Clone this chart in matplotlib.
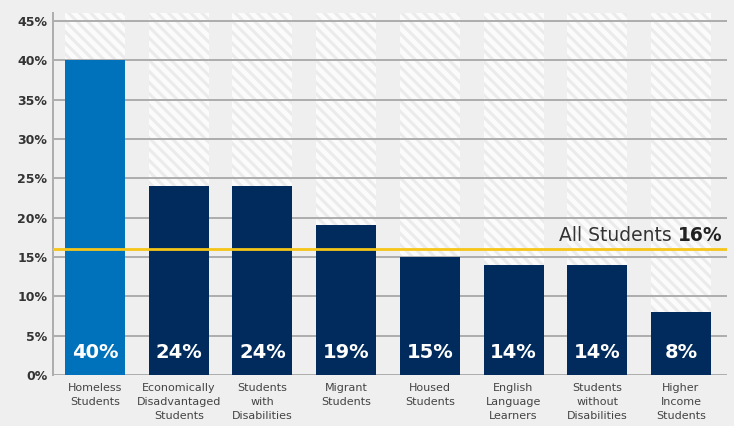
import matplotlib
matplotlib.use("Agg")
import matplotlib.pyplot as plt

categories = ["Homeless\nStudents", "Economically\nDisadvantaged\nStudents", "Students\nwith\nDisabilities",
              "Migrant\nStudents", "Housed\nStudents", "English\nLanguage\nLearners",
              "Students\nwithout\nDisabilities", "Higher\nIncome\nStudents"]
values = [40, 24, 24, 19, 15, 14, 14, 8]
all_students = 16
yticks = [0, 5, 10, 15, 20, 25, 30, 35, 40, 45]

bg = "#efefef"
plt.rcParams['font.family'] = ['DejaVu Sans']
plt.rcParams['hatch.linewidth'] = 2.2

fig = plt.figure(figsize=(7.34, 4.26), dpi=100, facecolor=bg)
ax = fig.add_axes([53/734, 1-375/426, (727-53)/734, (375-13)/426])
ax.set_facecolor(bg)

x = list(range(len(values)))
w = 0.717
ax.bar(x, [46]*len(x), width=w, color="#fbfbfb", hatch="\\\\\\", edgecolor="#ebebeb", linewidth=0, zorder=1)
colors = ["#0071bb"] + ["#002b5c"]*(len(values)-1)
ax.bar(x, values, width=w, color=colors, zorder=3)

for yy in yticks:
    ax.axhline(yy, color="#adadad", lw=1.4, zorder=2)

ax.set_ylim(0, 46)
ax.set_xlim(-0.502, 7.55)
for s in ["top", "right", "bottom"]:
    ax.spines[s].set_visible(False)
ax.spines["left"].set_color("#adadad")
ax.spines["left"].set_linewidth(1.4)

ax.set_yticks(yticks)
ax.set_yticklabels([f"{t}%" for t in yticks], fontsize=9, fontweight="bold", color="#333333")
ax.tick_params(axis="y", length=0, pad=4)
ax.set_xticks(x)
ax.set_xticklabels(categories, fontsize=8, color="#444444", linespacing=1.45, va="top")
ax.tick_params(axis="x", length=0, pad=6)

for xi, v in zip(x, values):
    ax.text(xi, 2.9, f"{v}%", ha="center", va="center", color="white", fontsize=14, fontweight="bold", zorder=4)

ax.axhline(all_students, color="#f5c518", lw=2, zorder=5)
bold = ax.text(7.5, all_students + 0.55, f"{all_students}%", ha="right", va="bottom",
               fontsize=13.5, fontweight="bold", color="#222222", zorder=6)
fig.canvas.draw()
bb = bold.get_window_extent()
lx = ax.transData.inverted().transform((bb.x0, bb.y0))[0]
ax.text(lx, all_students + 0.55, "All Students ", ha="right", va="bottom", fontsize=13.5,
        color="#333333", zorder=6)

fig.savefig("out.png", dpi=100, facecolor=bg)
